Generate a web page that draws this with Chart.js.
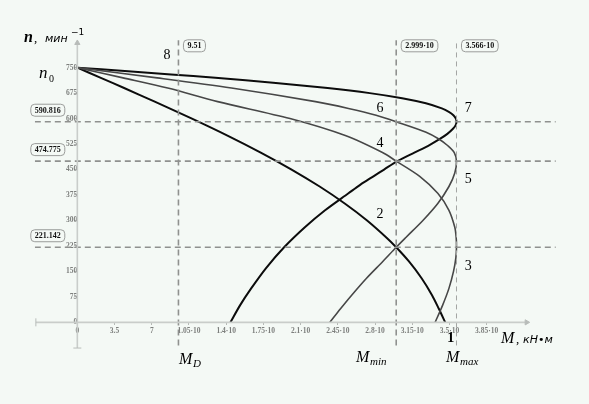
<!DOCTYPE html>
<html>
<head>
<meta charset="utf-8">
<script src="https://cdn.jsdelivr.net/npm/chart.js@4/dist/chart.umd.min.js"></script>
<style>
html,body{margin:0;padding:0;background:#f4f9f5;}
#wrap{width:589px;height:404px;position:relative;}
</style>
</head>
<body>
<div id="wrap"><canvas id="c" width="589" height="404"></canvas></div>
<script>
// ---- data (M in kN·m, n in min^-1) ----
const xTickValues = [0, 3.5, 7, 10.5, 14, 17.5, 21, 24.5, 28, 31.5, 35, 38.5];
const xTickLabels = ["0", "3.5", "7", "1.05·10", "1.4·10", "1.75·10", "2.1·10", "2.45·10", "2.8·10", "3.15·10", "3.5·10", "3.85·10"];
const yTickValues = [0, 75, 150, 225, 300, 375, 450, 525, 600, 675, 750];
const yTickLabels = ["0", "75", "150", "225", "300", "375", "450", "525", "600", "675", "750"];

const hLineValues = [590.816, 474.775, 221.142];
const hLineLabels = ["590.816", "474.775", "221.142"];
const vLineValues = [9.51, 29.99, 35.66];
const vLineLabels = ["9.51", "2.999·10", "3.566·10"];

// curve through labels 1/2
const nA = [750, 720, 690, 650, 600, 550, 500, 450, 400, 350, 300, 250, 221.142, 180, 130, 80, 40, 0];
const mA = [0, 2.21, 4.40, 7.28, 10.78, 14.12, 17.25, 20.15, 22.79, 25.15, 27.25, 29.06, 29.99, 31.17, 32.38, 33.36, 34.0, 34.6];
// curve through labels 4/3
const nB = [750, 720, 690, 650, 600, 550, 500, 474.775, 430, 380, 330, 280, 250, 221.142, 190, 150, 100, 50, 0];
const mB = [0, 4.3, 8.5, 13.2, 20.0, 25.2, 28.7, 29.99, 32.2, 33.9, 34.95, 35.5, 35.63, 35.66, 35.6, 35.38, 34.95, 34.35, 33.65];
// curve through labels 6/5
const nC = [750, 720, 690, 650, 630, 610, 590.816, 560, 540, 520, 500, 474.775, 440, 400, 350, 300, 250, 221.142, 180, 130, 80, 40, 0];
const mC = [0, 7.5, 14.5, 22.4, 25.5, 28.1, 29.99, 32.8, 34.0, 34.85, 35.45, 35.66, 35.5, 34.95, 33.9, 32.5, 30.9, 29.99, 28.75, 27.2, 25.8, 24.75, 23.75];
// curve through label 7
const nD = [750, 740, 730, 720, 705, 690, 675, 660, 645, 630, 620, 610, 600, 590.816, 580, 570, 555, 540, 520, 500, 474.775, 450, 430, 405, 380, 330, 280, 221.142, 160, 100, 50, 0];
const mD = [0, 4.46, 8.82, 12.98, 18.67, 23.54, 27.50, 30.55, 32.78, 34.28, 34.94, 35.37, 35.60, 35.66, 35.57, 35.33, 34.8, 34.1, 33.0, 31.7, 30.1, 28.85, 27.85, 26.6, 25.5, 23.3, 21.4, 19.45, 17.75, 16.35, 15.3, 14.4];

const pts = (ms, ns) => ms.map((m, i) => ({x: m, y: ns[i]}));

// ---- layout / style ----
const X_MIN = -4, X_MAX = 45, Y_MIN = -80, Y_MAX = 835;
const AX = {xFrom: -3.9, xTo: 42.26, yFrom: -75.7, yTo: 822.7};
const DASH_H = {from: -4, to: 45};
const DASH_V = {from: -68, to: 831};

const datasets = [];
// axes as lines with arrow heads
datasets.push({data: [{x: AX.xFrom, y: 0}, {x: AX.xTo, y: 0}], borderColor: '#c9cdca', borderWidth: 1.6,
  pointStyle: ['line', 'triangle'], pointRotation: [90, 90], pointRadius: [4, 3], backgroundColor: '#b8bcb9', pointBorderColor: '#b8bcb9', pointBorderWidth: 1});
datasets.push({data: [{x: 0, y: AX.yFrom}, {x: 0, y: AX.yTo}], borderColor: '#c9cdca', borderWidth: 1.6,
  pointStyle: ['line', 'triangle'], pointRotation: [0, 0], pointRadius: [4, 3], backgroundColor: '#b8bcb9', pointBorderColor: '#b8bcb9', pointBorderWidth: 1});
hLineValues.forEach(v => datasets.push({data: [{x: DASH_H.from, y: v}, {x: DASH_H.to, y: v}], borderColor: '#8f918f', borderWidth: 1.6, borderDash: [6, 4], pointRadius: 0}));
vLineValues.forEach((v, i) => datasets.push({data: [{x: v, y: DASH_V.from}, {x: v, y: DASH_V.to}], borderColor: i === 2 ? '#a3a5a3' : '#8f918f', borderWidth: i === 2 ? 1 : 1.6, borderDash: i === 2 ? [5, 4] : [6, 4], pointRadius: 0}));
datasets.push({data: pts(mB, nB), borderColor: '#474747', borderWidth: 1.6, pointRadius: 0, tension: 0.3});
datasets.push({data: pts(mC, nC), borderColor: '#474747', borderWidth: 1.6, pointRadius: 0, tension: 0.3});
datasets.push({data: pts(mA, nA), borderColor: '#0c0c0c', borderWidth: 2, pointRadius: 0, tension: 0.3});
datasets.push({data: pts(mD, nD), borderColor: '#0c0c0c', borderWidth: 2, pointRadius: 0, tension: 0.3});

const curveNumbers = [
  {t: '8', x: 8.44, y: 787}, {t: '6', x: 28.47, y: 630}, {t: '4', x: 28.47, y: 527},
  {t: '2', x: 28.47, y: 319}, {t: '7', x: 36.77, y: 630}, {t: '5', x: 36.77, y: 421},
  {t: '3', x: 36.77, y: 164}, {t: '1', x: 35.11, y: -47, bold: true}
];

const textPlugin = {
  id: 'texts',
  afterDatasetsDraw(chart) {
    const ctx = chart.ctx, sx = chart.scales.x, sy = chart.scales.y;
    ctx.save();
    ctx.fillStyle = '#000';
    ctx.textBaseline = 'middle';
    ctx.textAlign = 'center';
    curveNumbers.forEach(c => {
      ctx.font = (c.bold ? 'bold ' : '') + '14px "Liberation Serif"';
      ctx.fillText(c.t, sx.getPixelForValue(c.x), sy.getPixelForValue(c.y));
    });
    // value boxes
    const box = (txt, cx, cy) => {
      ctx.font = 'bold 8px "Liberation Serif"';
      const w = ctx.measureText(txt).width + 8, h = 12;
      ctx.beginPath();
      ctx.roundRect(cx - w / 2, cy - h / 2, w, h, 4);
      ctx.fillStyle = '#f4f9f5'; ctx.fill();
      ctx.strokeStyle = '#9a9c9a'; ctx.lineWidth = 1; ctx.stroke();
      ctx.fillStyle = '#111';
      ctx.textAlign = 'center'; ctx.textBaseline = 'middle';
      ctx.fillText(txt, cx, cy + 0.5);
      return w;
    };
    hLineValues.forEach((v, i) => box(hLineLabels[i], 47.8, sy.getPixelForValue(v) - 11.5));
    vLineValues.forEach((v, i) => {
      ctx.font = 'bold 8px "Liberation Serif"';
      const w = ctx.measureText(vLineLabels[i]).width + 8;
      box(vLineLabels[i], sx.getPixelForValue(v) + 5 + w / 2, 45.8);
    });
    // axis titles and symbols
    ctx.fillStyle = '#000';
    ctx.textAlign = 'left'; ctx.textBaseline = 'alphabetic';
    const put = (t, x, y, f) => { ctx.font = f; ctx.fillText(t, x, y); return ctx.measureText(t).width; };
    // n , мин^-1
    put('n', 24, 42, 'italic bold 16px "Liberation Serif"');
    put(',', 34, 42, '13px "Liberation Serif"');
    put('мин', 45, 42, 'italic 11px "DejaVu Sans"');
    put('−1', 71, 35, '9px "DejaVu Sans"');
    // n0
    put('n', 39, 78, 'italic 17px "Liberation Serif"');
    put('0', 49, 82, '10px "Liberation Serif"');
    // M , кН•м
    put('M', 501, 343, 'italic 16px "Liberation Serif"');
    put(',', 516, 343, '13px "Liberation Serif"');
    put('кН•м', 523, 343, 'italic 11px "DejaVu Sans"');
    // M_D, M_min, M_max
    put('M', 179, 364, 'italic 16px "Liberation Serif"');
    put('D', 193, 367, 'italic 11px "Liberation Serif"');
    put('M', 356, 362, 'italic 16px "Liberation Serif"');
    put('min', 370, 365, 'italic 11px "Liberation Serif"');
    put('M', 446, 362, 'italic 16px "Liberation Serif"');
    put('max', 460, 365, 'italic 11px "Liberation Serif"');
    ctx.restore();
  }
};

new Chart(document.getElementById('c'), {
  type: 'scatter',
  data: {datasets},
  options: {
    responsive: false,
    devicePixelRatio: 1,
    animation: false,
    showLine: true,
    layout: {padding: {left: 34.8, right: 33.2, top: 38.8, bottom: 54.5}},
    plugins: {legend: {display: false}, tooltip: {enabled: false}},
    elements: {line: {fill: false}},
    scales: {
      x: {
        type: 'linear', min: X_MIN, max: X_MAX, position: {y: 0},
        afterBuildTicks: s => { s.ticks = xTickValues.map(v => ({value: v})); },
        ticks: {callback: (v, i) => xTickLabels[i], autoSkip: false, maxRotation: 0, padding: 1,
          color: '#7d7f7d', font: {family: 'Liberation Serif', size: 7.5, weight: 'bold'}},
        grid: {drawOnChartArea: false, drawTicks: true, tickLength: 3, color: '#b5b8b5'},
        border: {display: false}
      },
      y: {
        type: 'linear', min: Y_MIN, max: Y_MAX, position: {x: 0},
        afterBuildTicks: s => { s.ticks = yTickValues.map(v => ({value: v})); },
        ticks: {callback: (v, i) => yTickLabels[i], autoSkip: false, padding: 1,
          color: '#7d7f7d', font: {family: 'Liberation Serif', size: 7.5, weight: 'bold'}},
        grid: {drawOnChartArea: false, drawTicks: true, tickLength: 3, color: '#b5b8b5'},
        border: {display: false}
      }
    }
  },
  plugins: [textPlugin]
});
</script>
</body>
</html>
